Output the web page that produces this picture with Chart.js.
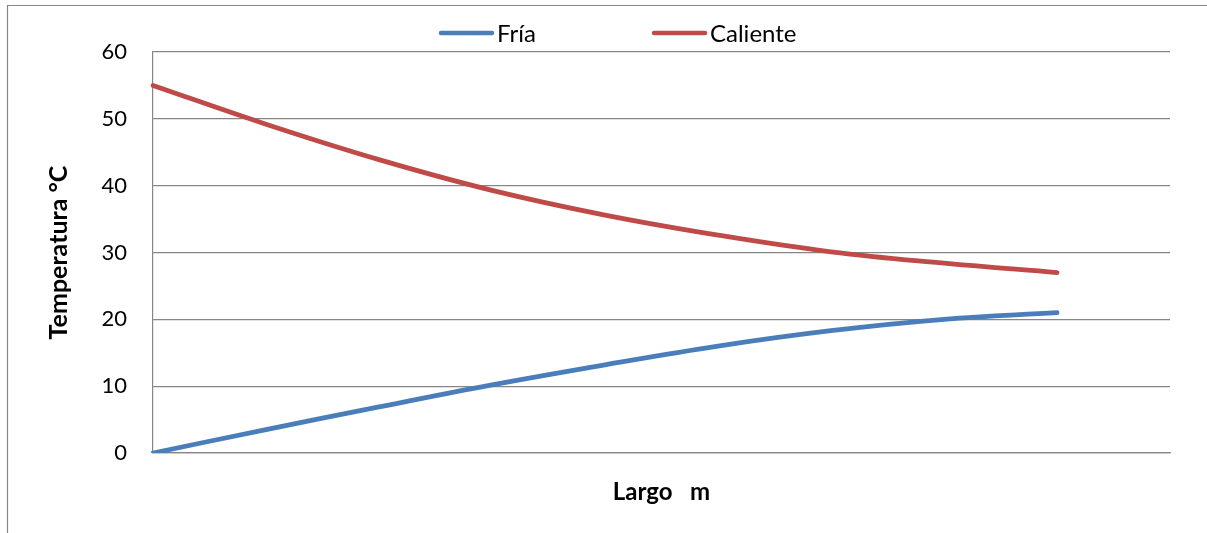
<!DOCTYPE html>
<html>
<head>
<meta charset="utf-8">
<script src="https://cdn.jsdelivr.net/npm/chart.js@4.4.1/dist/chart.umd.min.js"></script>
<style>
  html, body { margin: 0; padding: 0; background: #ffffff; }
  #wrap { position: relative; width: 1207px; height: 533px; }
</style>
</head>
<body>
<div id="wrap"><canvas id="c"></canvas></div>
<script>
// Category positions along "Largo" (last category is empty in the source sheet)
const categories = ['1', '2', '3', '4', '5', '6', '7', '8', '9', '10'];
// Series values (°C)
const fria     = [0, 3.5, 6.9, 10.2, 13.2, 16.0, 18.3, 20.0, 21.0, null];
const caliente = [55, 49.2, 43.9, 39.3, 35.6, 32.6, 30.1, 28.4, 27.0, null];
// Y axis ticks
const yTicks = [0, 10, 20, 30, 40, 50, 60];

const FONT = 'Lato, "Open Sans", sans-serif';
const GRID = '#868686';

const legendAndFrame = {
  id: 'legendAndFrame',
  beforeDraw(chart) {
    const ctx = chart.ctx;
    ctx.save();
    ctx.strokeStyle = GRID;
    ctx.lineWidth = 1.2;
    ctx.beginPath();
    ctx.moveTo(7.5, 600);
    ctx.lineTo(7.5, 5.5);
    ctx.lineTo(1300, 5.5);
    ctx.stroke();
    ctx.restore();
  },
  afterDraw(chart) {
    const ctx = chart.ctx;
    ctx.save();
    ctx.font = '24px ' + FONT;
    ctx.textBaseline = 'middle';
    ctx.fillStyle = '#000';
    const starts = [439, 652];
    const y = 33;
    chart.data.datasets.forEach((ds, i) => {
      const x0 = starts[i];
      ctx.strokeStyle = ds.borderColor;
      ctx.lineWidth = 4.5;
      ctx.lineCap = 'round';
      ctx.beginPath();
      ctx.moveTo(x0 + 2, y);
      ctx.lineTo(x0 + 53, y);
      ctx.stroke();
      ctx.fillText(ds.label, x0 + 58, y + 1);
    });
    ctx.restore();
  }
};

new Chart(document.getElementById('c'), {
  type: 'line',
  data: {
    labels: categories,
    datasets: [
      { label: 'Fría', data: fria, borderColor: '#4A7EBB', backgroundColor: '#4A7EBB',
        borderWidth: 4.8, pointRadius: 0, tension: 0.4, borderCapStyle: 'round', fill: false },
      { label: 'Caliente', data: caliente, borderColor: '#BE4B48', backgroundColor: '#BE4B48',
        borderWidth: 4.8, pointRadius: 0, tension: 0.4, borderCapStyle: 'round', fill: false }
    ]
  },
  options: {
    responsive: true,
    maintainAspectRatio: false,
    animation: false,
    layout: { padding: { left: 8, right: 37, top: 52, bottom: 0 } },
    plugins: { legend: { display: false }, tooltip: { enabled: false } },
    scales: {
      x: {
        type: 'category',
        offset: false,
        grid: { display: false, drawTicks: false },
        border: { display: true, color: GRID, width: 1.2 },
        ticks: { display: false },
        title: { display: true, text: 'Largo   m', color: '#000',
                 font: { family: FONT, size: 24, weight: 'bold' }, padding: { top: 0, bottom: 26 } },
        afterFit(scale) { scale.height = 80; }
      },
      y: {
        min: 0, max: 60,
        afterBuildTicks(scale) { scale.ticks = yTicks.map(v => ({ value: v })); },
        grid: { color: GRID, lineWidth: 1.2, drawTicks: false },
        border: { display: true, color: GRID, width: 1.2 },
        ticks: { color: '#000', padding: 26, font: { family: FONT, size: 22 } },
        title: { display: true, text: 'Temperatura °C', color: '#000',
                 font: { family: FONT, size: 25, weight: 'bold' }, padding: { top: 36, bottom: 0 } },
        afterFit(scale) { scale.width = 145; }
      }
    }
  },
  plugins: [legendAndFrame]
});
</script>
</body>
</html>
